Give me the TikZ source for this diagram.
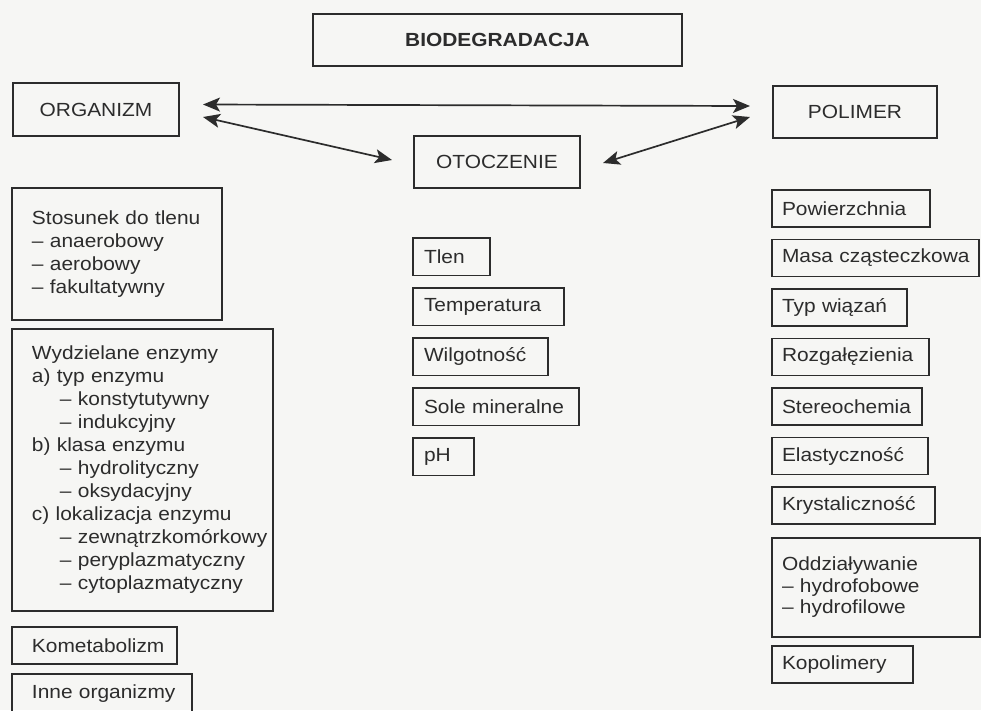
\documentclass[tikz,border=0pt]{standalone}
\usepackage{fontspec}
\setmainfont[FakeStretch=1.1]{Liberation Sans}
\usepackage{tikz}
\usetikzlibrary{positioning}
\usetikzlibrary{arrows.meta}

\definecolor{ink}{HTML}{2C2C2C}
\definecolor{paper}{HTML}{F6F6F4}

\tikzset{
  box/.style={draw=ink, line width=1.8pt, text=ink, anchor=north west, align=left,
    inner xsep=0pt, inner ysep=0pt, outer sep=0pt, minimum height=37pt,
    font=\fontsize{19}{23}\selectfont},
  wd/.style={text width=#1},
  lpad/.style={execute at begin node={\leftskip=#1}},
  head/.style={draw=ink, line width=1.8pt, text=ink, anchor=north west, outer sep=0pt,
    minimum height=52pt, font=\fontsize{19}{23}\selectfont},
  link/.style={{Stealth[length=17pt,width=14pt,inset=4pt]}-{Stealth[length=17pt,width=14pt,inset=4pt]},
    color=ink, line width=1.7pt},
}

\begin{document}
\begin{tikzpicture}[x=1pt, y=-1pt, node distance=12.5pt]
  \fill[paper] (0,0) rectangle (981,710);
  \useasboundingbox (0,0) rectangle (981,710);
  \clip (0,0) rectangle (981,710);

  % top row
  \node[head, minimum width=369pt, font=\fontsize{19}{23}\selectfont\bfseries] (bio) at (313,14) {BIODEGRADACJA};
  \node[head, minimum width=166pt, minimum height=53pt] (organizm) at (13,83) {ORGANIZM};
  \node[head, minimum width=166pt] (otoczenie) at (414,136) {OTOCZENIE};
  \node[head, minimum width=164pt] (polimer) at (773,86) {POLIMER};

  \path[link] ([xshift=24pt,yshift=5pt]organizm.east) edge ([xshift=-23pt,yshift=6pt]polimer.west);
  \path[link] ([xshift=24pt,yshift=-7.5pt]organizm.east) edge ([xshift=-22pt,yshift=2pt]otoczenie.west);
  \path[link] ([xshift=-23pt,yshift=-5pt]polimer.west) edge ([xshift=23pt,yshift=-1pt]otoczenie.east);

  % organizm
  \node[box, wd=210pt, lpad=20pt, minimum height=132pt] (tlenu) at (12,188)
    {Stosunek do tlenu\\–~anaerobowy\\–~aerobowy\\–~fakultatywny};
  \node[box, wd=261pt, lpad=20pt, minimum height=282pt, below=9pt of tlenu.south west, anchor=north west] (enzymy)
    {Wydzielane enzymy\\
     a) typ enzymu\\
     \hspace*{28pt}–~konstytutywny\\
     \hspace*{28pt}–~indukcyjny\\
     b) klasa enzymu\\
     \hspace*{28pt}–~hydrolityczny\\
     \hspace*{28pt}–~oksydacyjny\\
     c) lokalizacja enzymu\\
     \hspace*{28pt}–~zewnątrzkomórkowy\\
     \hspace*{28pt}–~peryplazmatyczny\\
     \hspace*{28pt}–~cytoplazmatyczny};
  \node[box, wd=165pt, lpad=20pt, below=16pt of enzymy.south west, anchor=north west] (kometab) {Kometabolizm};
  \node[box, wd=180pt, lpad=20pt, minimum height=40pt, below=10pt of kometab.south west, anchor=north west] (inne) {Inne organizmy};

  % otoczenie
  \node[box, wd=77pt, lpad=11pt, minimum height=37.5pt] (tlen) at (413,238) {Tlen};
  \node[box, wd=151pt, lpad=11pt, minimum height=37.5pt, below=of tlen.south west, anchor=north west] (temp) {Temperatura};
  \node[box, wd=135pt, lpad=11pt, minimum height=37.5pt, below=of temp.south west, anchor=north west] (wilg) {Wilgotność};
  \node[box, wd=166pt, lpad=11pt, minimum height=37.5pt, below=of wilg.south west, anchor=north west] (sole) {Sole mineralne};
  \node[box, wd=61pt, lpad=11pt, minimum height=37.5pt, below=of sole.south west, anchor=north west] (ph) {pH};

  % polimer
  \node[box, wd=158pt, lpad=10pt] (pow) at (772,190) {Powierzchnia};
  \node[box, wd=207pt, lpad=10pt, below=of pow.south west, anchor=north west] (masa) {Masa cząsteczkowa};
  \node[box, wd=135pt, lpad=10pt, below=of masa.south west, anchor=north west] (wiazania) {Typ wiązań};
  \node[box, wd=157pt, lpad=10pt, below=of wiazania.south west, anchor=north west] (rozg) {Rozgałęzienia};
  \node[box, wd=150pt, lpad=10pt, below=of rozg.south west, anchor=north west] (stereo) {Stereochemia};
  \node[box, wd=156pt, lpad=10pt, below=of stereo.south west, anchor=north west] (elast) {Elastyczność};
  \node[box, wd=163pt, lpad=10pt, below=of elast.south west, anchor=north west] (kryst) {Krystaliczność};
  \node[box, wd=208pt, lpad=10pt, minimum height=99pt, font=\fontsize{19}{21.5}\selectfont,
    below=14pt of kryst.south west, anchor=north west] (oddz)
    {Oddziaływanie\\–~hydrofobowe\\–~hydrofilowe};
  \node[box, wd=141pt, lpad=10pt, below=9pt of oddz.south west, anchor=north west] (kopol) {Kopolimery};
\end{tikzpicture}
\end{document}
